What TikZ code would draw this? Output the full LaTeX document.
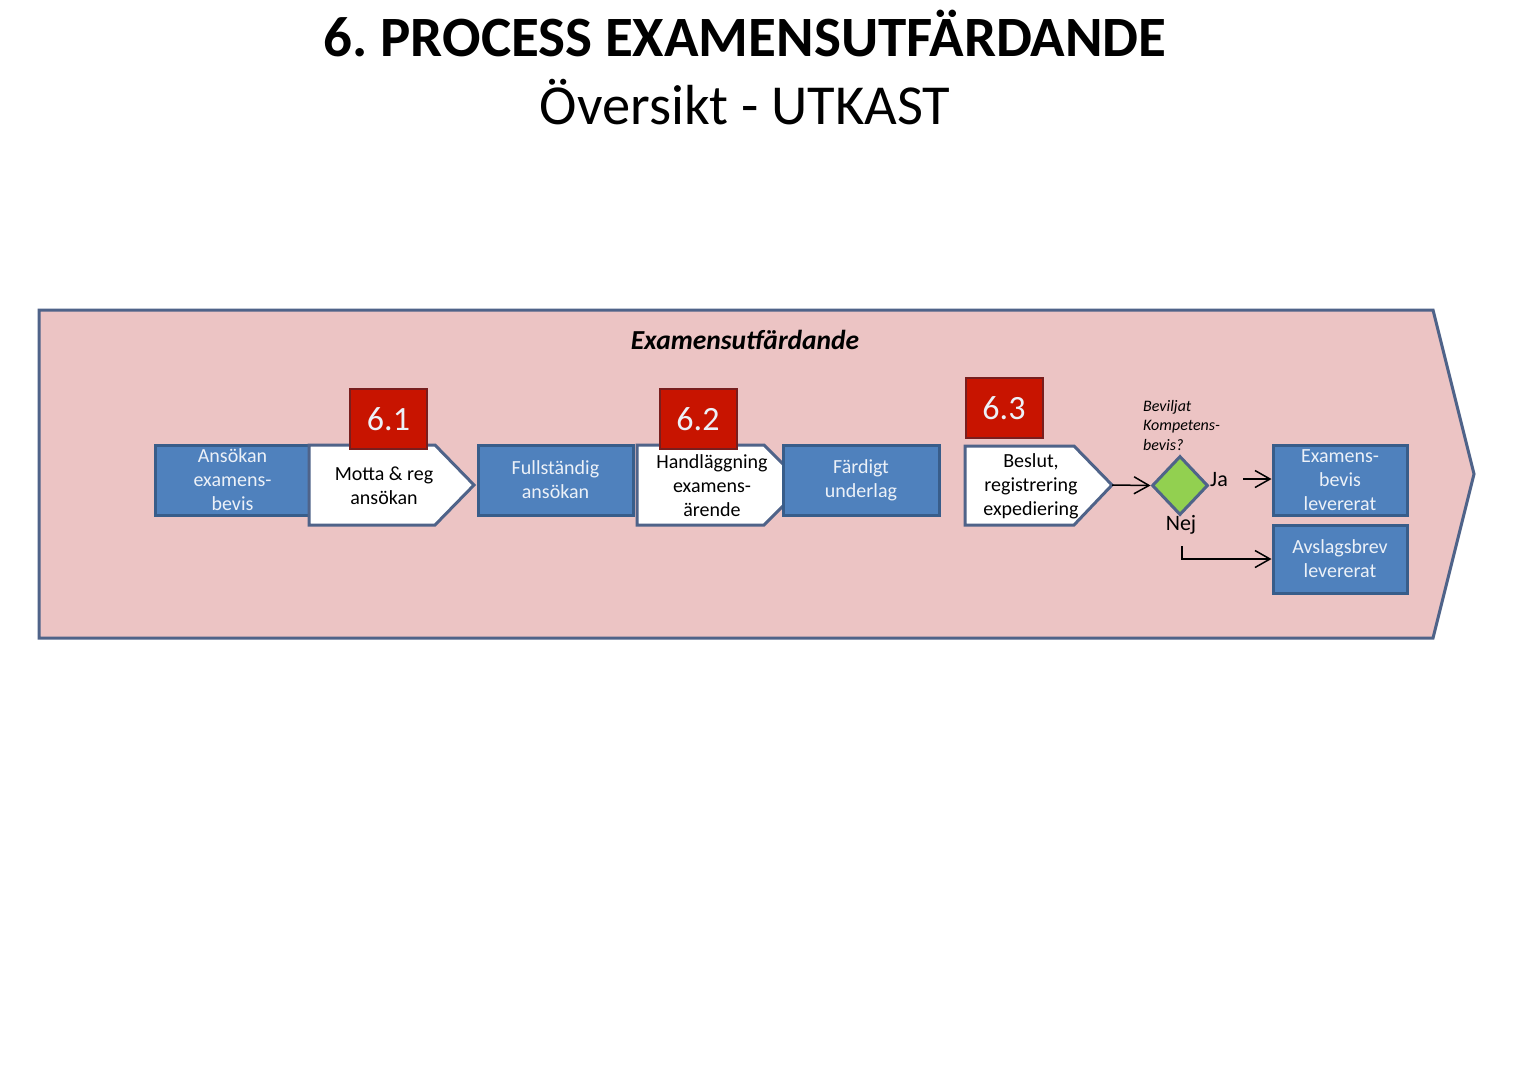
\documentclass[tikz,border=0pt]{standalone}
\usepackage{fontspec}
\setmainfont{Carlito}
\usetikzlibrary{shapes.geometric,arrows.meta,calc}
\definecolor{bandfill}{RGB}{236,196,196}
\definecolor{bandline}{RGB}{79,99,137}
\definecolor{boxfill}{RGB}{79,129,189}
\definecolor{boxline}{RGB}{56,93,138}
\definecolor{boxtext}{RGB}{236,241,248}
\definecolor{redfill}{RGB}{200,20,0}
\definecolor{redline}{RGB}{120,30,30}
\definecolor{diafill}{RGB}{146,208,80}
\tikzset{
  bluebox/.style={draw=boxline, fill=boxfill, line width=3pt, text=boxtext, align=center,
    font=\fontsize{20}{24}\selectfont, inner sep=0pt},
  chev/.style={draw=bandline, fill=white, line width=3pt, line join=miter},
  chevtext/.style={align=center, font=\fontsize{20}{24}\selectfont, inner sep=0pt},
  numbox/.style={draw=redline, fill=redfill, line width=2pt, text=boxtext,
    font=\fontsize{34}{36}\selectfont, minimum width=77pt, minimum height=60pt, inner sep=0pt},
  arr/.style={line width=1.5pt, -{Straight Barb[length=15pt,width=17pt,line width=1.5pt]}}
}
\begin{document}
\begin{tikzpicture}[x=1pt,y=-1pt]
\useasboundingbox (0,0) rectangle (1522,1080);
\fill[white] (0,0) rectangle (1522,1080);
% titles
\node[anchor=base, font=\fontsize{57}{60}\selectfont\bfseries, inner sep=0pt] (title) at (745,56) {6.\ PROCESS EXAMENSUTFÄRDANDE};
\node[anchor=base, font=\fontsize{56.5}{60}\selectfont, inner sep=0pt] (subtitle) at (745,124) {Översikt - UTKAST};
% band
\draw[draw=bandline, fill=bandfill, line width=3pt, line join=miter]
  (39,310) -- (1433,310) -- (1474,474) -- (1433,638) -- (39,638) -- cycle;
\node[font=\fontsize{27.5}{30}\selectfont\bfseries\itshape, inner sep=0pt] (bandlabel) at (745,340) {Examensutfärdande};
% box 1
\node[bluebox, minimum width=155pt, minimum height=70pt] (b1) at (232.5,480) {Ansökan\\examens-\\bevis};
% chevron 1
\draw[chev] (309,445) -- (435,445) -- (474,485) -- (435,525) -- (309,525) -- cycle;
\node[chevtext] (c1) at (384,486) {Motta \& reg\\ansökan};
\node[numbox] (n1) at (388.5,419) {6.1};
% box 2
\node[bluebox, minimum width=155pt, minimum height=70pt] (b2) at (555.5,480) {Fullständig\\ansökan};
% chevron 2
\draw[chev] (637,445) -- (764,445) -- (804,485) -- (764,525) -- (637,525) -- cycle;
\node[chevtext] (c2) at (712,486) {Handläggning\\examens-\\ärende};
\node[numbox] (n2) at (698,419) {6.2};
% box 3
\node[bluebox, minimum width=156pt, minimum height=70pt] (b3) at (861,480) {Färdigt\\underlag};
% chevron 3
\draw[chev] (965,446) -- (1074,446) -- (1112,485) -- (1074,525) -- (965,525) -- cycle;
\coordinate (c3tip) at (1112,485);
\node[chevtext] (c3) at (1031,486) {Beslut,\\registrering\\expediering};
\node[numbox] (n3) at (1004,408) {6.3};
% decision
\node[diamond, draw=bandline, fill=diafill, line width=3pt, minimum width=56pt, minimum height=59pt, inner sep=0pt] (dia) at (1180,485.5) {};
\node[anchor=north west, align=left, font=\fontsize{16}{19.5}\selectfont\itshape, inner sep=0pt] (q) at (1143,400) {Beviljat\\Kompetens-\\bevis?};
\draw[arr] (c3tip) -- (dia.west);
\node[font=\fontsize{22}{24}\selectfont, inner sep=0pt] (ja) at (1219,480) {Ja};
\node[font=\fontsize{22}{24}\selectfont, inner sep=0pt] (nej) at (1181,525) {Nej};
% end boxes
\node[bluebox, minimum width=134pt, minimum height=70pt] (e1) at (1340,480) {Examens-\\bevis\\levererat};
\node[bluebox, minimum width=134pt, minimum height=68pt] (e2) at (1340,559) {Avslagsbrev\\levererat};
\coordinate (jastart) at (1243,479);
\draw[arr] (jastart) -- (jastart -| e1.west);
\coordinate (nejstart) at (1182,546);
\draw[arr, line width=1.2pt] (nejstart) |- (e2.west);
\end{tikzpicture}
\end{document}
